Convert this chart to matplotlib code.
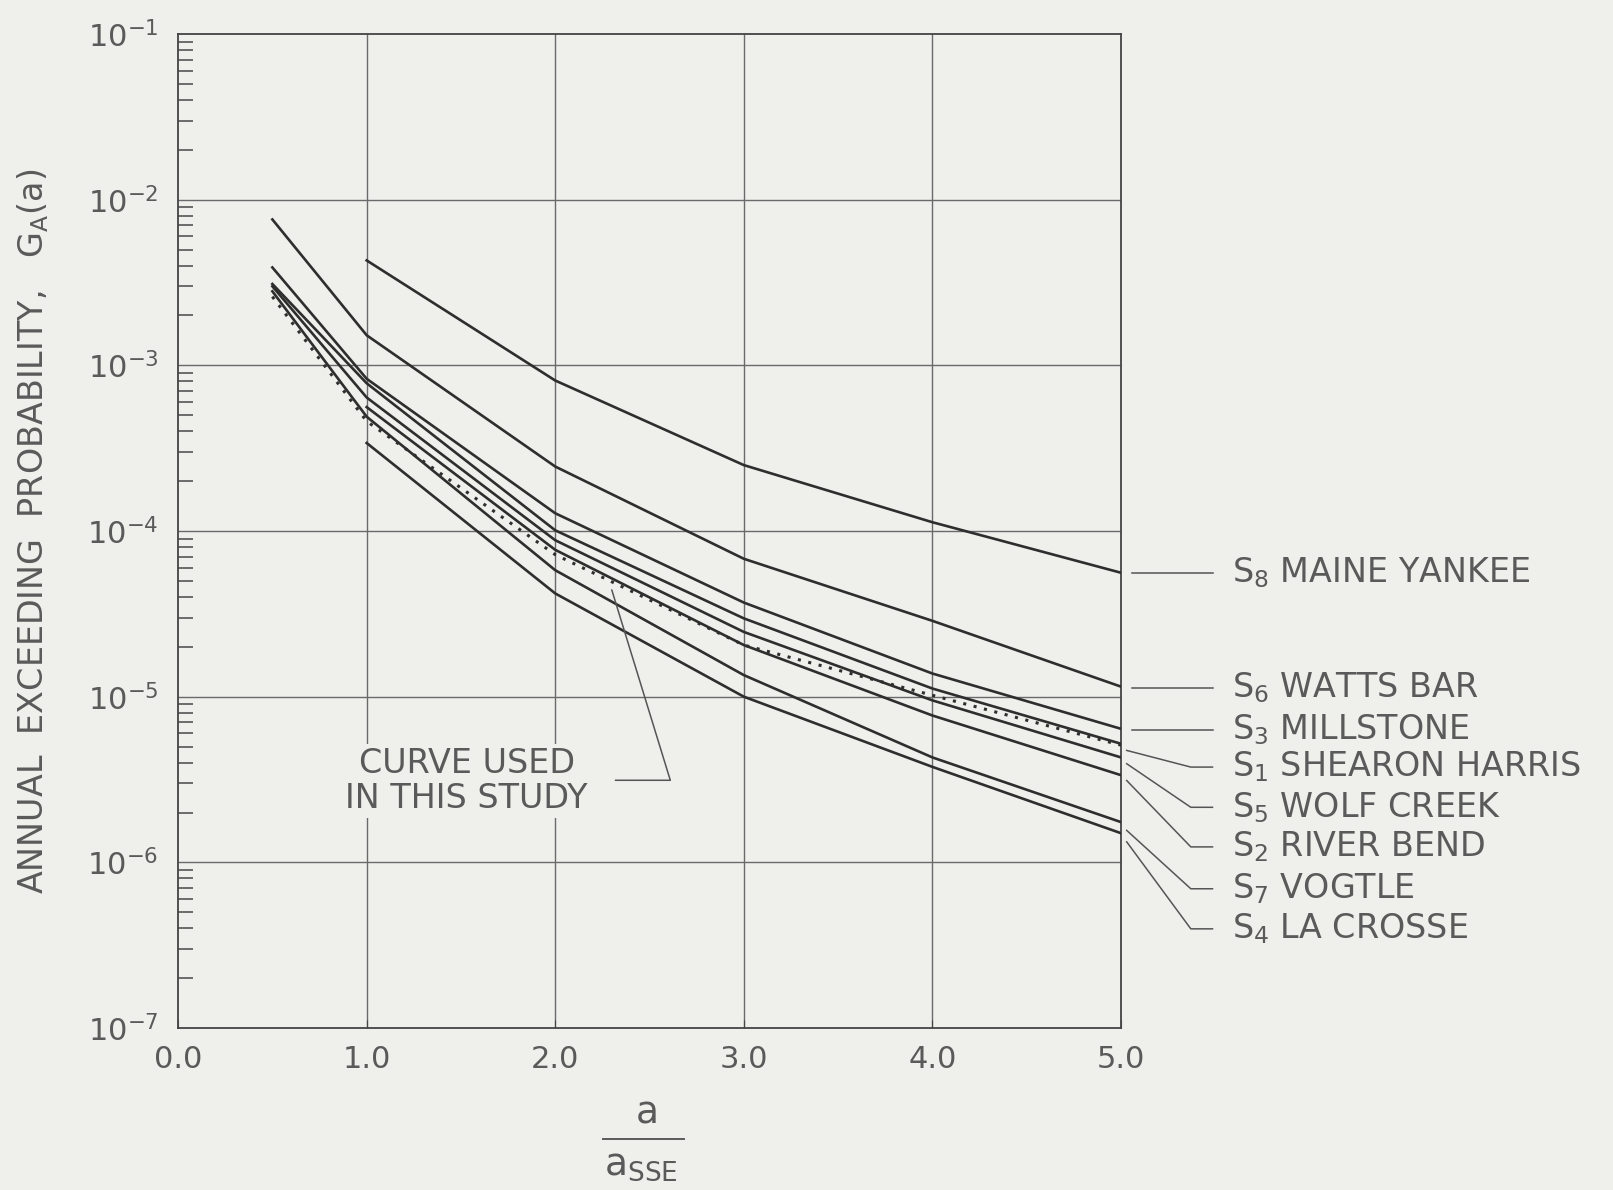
import matplotlib.pyplot as plt

# x positions (a / a_SSE)
x_half = [0.5, 1.0, 2.0, 3.0, 4.0, 5.0]
x_one = [1.0, 2.0, 3.0, 4.0, 5.0]

# site curves
s8_maine = [4.3e-3, 8.1e-4, 2.5e-4, 1.13e-4, 5.6e-5]
s6_watts = [7.6e-3, 1.52e-3, 2.45e-4, 6.8e-5, 2.87e-5, 1.15e-5]
s3_mill = [3.9e-3, 8.3e-4, 1.28e-4, 3.7e-5, 1.38e-5, 6.4e-6]
s1_shearon = [3.1e-3, 7.8e-4, 1.01e-4, 2.97e-5, 1.12e-5, 5.2e-6]
s5_wolf = [3.0e-3, 6.4e-4, 8.8e-5, 2.46e-5, 9.5e-6, 4.3e-6]
s2_river = [5.6e-4, 7.7e-5, 2.05e-5, 7.7e-6, 3.36e-6]
s7_vogtle = [2.8e-3, 4.9e-4, 5.8e-5, 1.35e-5, 4.3e-6, 1.75e-6]
s4_lacrosse = [3.4e-4, 4.2e-5, 1.0e-5, 3.77e-6, 1.5e-6]
curve_used = [2.6e-3, 4.6e-4, 7.2e-5, 2.05e-5, 1.02e-5, 5.1e-6]

# right hand labels
site_subs = ['8', '6', '3', '1', '5', '2', '7', '4']
site_names = ['MAINE YANKEE', 'WATTS BAR', 'MILLSTONE', 'SHEARON HARRIS',
              'WOLF CREEK', 'RIVER BEND', 'VOGTLE', 'LA CROSSE']
label_y = [5.6e-5, 1.13e-5, 6.3e-6, 3.76e-6, 2.15e-6, 1.24e-6, 6.93e-7, 3.97e-7]
leader_start = [5.6e-5, 1.13e-5, 6.3e-6, 4.74e-6, 3.94e-6, 3.12e-6, 1.56e-6, 1.33e-6]

x_ticks = [0, 1, 2, 3, 4, 5]
x_ticklabels = ['0.0', '1.0', '2.0', '3.0', '4.0', '5.0']
y_ticks = [1e-7, 1e-6, 1e-5, 1e-4, 1e-3, 1e-2, 1e-1]
y_ticklabels = [r'$10^{-7}$', r'$10^{-6}$', r'$10^{-5}$', r'$10^{-4}$',
                r'$10^{-3}$', r'$10^{-2}$', r'$10^{-1}$']

plt.rcParams['font.family'] = ['DejaVu Sans']
plt.rcParams['mathtext.default'] = 'regular'

bg = '#efefec'
ink = '#2e2e2e'
txt = '#5a5a5a'

fig = plt.figure(figsize=(16.13, 11.90), dpi=100, facecolor=bg)
ax = fig.add_axes([0.1104, 0.1361, 0.5846, 0.8353], facecolor=bg)

ax.set_yscale('log')
ax.set_xlim(0, 5)
ax.set_ylim(1e-7, 1e-1)

# grid
for xv in x_ticks[1:-1]:
    ax.axvline(xv, color='#6a6a6a', lw=1.0, zorder=1)
for yv in y_ticks[1:-1]:
    ax.axhline(yv, color='#6a6a6a', lw=1.0, zorder=1)

# curves
lw = 1.9
ax.plot(x_one, s8_maine, color=ink, lw=lw, zorder=3)
ax.plot(x_half, s6_watts, color=ink, lw=lw, zorder=3)
ax.plot(x_half, s3_mill, color=ink, lw=lw, zorder=3)
ax.plot(x_half, s1_shearon, color=ink, lw=lw, zorder=3)
ax.plot(x_half, s5_wolf, color=ink, lw=lw, zorder=3)
ax.plot(x_one, s2_river, color=ink, lw=lw, zorder=3)
ax.plot(x_half, s7_vogtle, color=ink, lw=lw, zorder=3)
ax.plot(x_one, s4_lacrosse, color=ink, lw=lw, zorder=3)
ax.plot(x_half, curve_used, color=ink, lw=2.2, linestyle=(0, (1, 2.5)), zorder=3)

# axes styling
for sp in ax.spines.values():
    sp.set_color('#444444')
    sp.set_linewidth(1.3)
ax.set_xticks(x_ticks)
ax.set_xticklabels(x_ticklabels)
ax.set_yticks(y_ticks)
ax.set_yticklabels(y_ticklabels)
ax.tick_params(axis='x', direction='in', length=6, color='#444444',
               labelsize=22, labelcolor=txt, pad=12)
ax.tick_params(axis='y', which='major', direction='in', length=0,
               labelsize=22, labelcolor=txt, pad=14)
ax.tick_params(axis='y', which='minor', direction='in', length=11,
               width=1.2, color='#555555', left=True, right=False)
ax.tick_params(axis='y', which='minor', labelleft=False)

# labels
ax.set_ylabel(r'ANNUAL  EXCEEDING  PROBABILITY,   $G_A(a)$', fontsize=24,
              color=txt, labelpad=26)
fig.text(0.401, 0.064, 'a', fontsize=27, color=txt, ha='center', va='center')
fig.add_artist(plt.Line2D([0.374, 0.424], [0.043, 0.043], color=txt, lw=1.4))
fig.text(0.397, 0.021, r'a$_{SSE}$', fontsize=27, color=txt, ha='center',
         va='center')

# curve used label and leader
ax.text(1.53, 3.1e-6, 'CURVE USED\nIN THIS STUDY', fontsize=24,
        color=txt, ha='center', va='center', linespacing=1.1, zorder=4,
        bbox=dict(facecolor=bg, edgecolor='none', pad=2))
ax.plot([2.32, 2.61, 2.30], [3.13e-6, 3.13e-6, 4.4e-5], color='#555555',
        lw=1.1, zorder=4)

# site labels with leaders
for sub, name, ly, ls in zip(site_subs, site_names, label_y, leader_start):
    if ly == ls:
        ax.plot([5.06, 5.485], [ly, ly], color='#555555', lw=1.1, clip_on=False)
    else:
        ax.plot([5.03, 5.37, 5.485], [ls, ly, ly], color='#555555', lw=1.1,
                clip_on=False)
    ax.text(5.59, ly, r'S$_{%s}$ %s' % (sub, name), fontsize=24, color=txt,
            ha='left', va='center', clip_on=False)

fig.savefig('out.png', dpi=100, facecolor=bg)
